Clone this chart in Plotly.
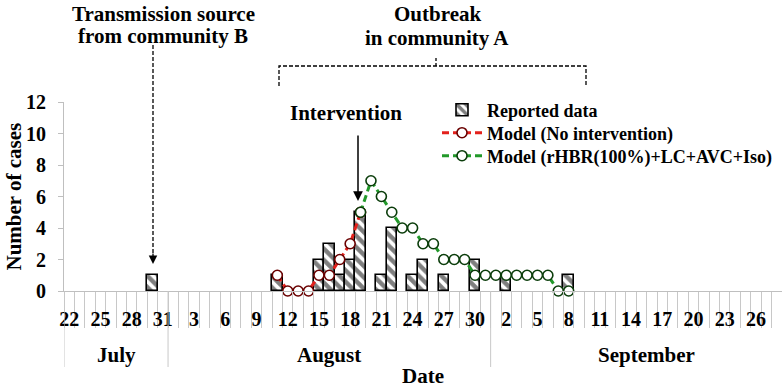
import datetime as dt
import plotly.graph_objects as go

# ---------------- data ----------------
start_date = dt.date(2015, 7, 22)
end_date = dt.date(2015, 9, 28)

reported_dates = ["07-30", "08-11", "08-15", "08-16", "08-17", "08-18", "08-19",
                  "08-21", "08-22", "08-24", "08-25", "08-27", "08-30", "09-02", "09-08"]
reported_cases = [1, 1, 2, 3, 1, 2, 5, 1, 4, 1, 2, 1, 2, 1, 1]

no_intervention_start = "08-11"
no_intervention_cases = [1, 0, 0, 0, 1, 1, 2, 3, 5]

intervention_start = "08-19"
intervention_cases = [5, 7, 6, 5, 4, 4, 3, 3, 2, 2, 2, 1, 1, 1, 1, 1, 1, 1, 1, 0, 0]

month_names = ["July", "August", "September"]
month_lengths = [31, 31, 30]
y_ticks = [0, 2, 4, 6, 8, 10, 12]

# ---------------- helpers ----------------
n_days = (end_date - start_date).days + 1
days = [start_date + dt.timedelta(days=i) for i in range(n_days)]


def idx(mmdd):
    m, d = map(int, mmdd.split("-"))
    return (dt.date(start_date.year, m, d) - start_date).days


rep_x = [idx(d) for d in reported_dates]
ni_x = [idx(no_intervention_start) + i for i in range(len(no_intervention_cases))]
iv_x = [idx(intervention_start) + i for i in range(len(intervention_cases))]

# pixel -> paper conversion for decorations
PL, PR, PT, PB = 64, 782, 102, 291


def pxx(x):
    return (x - PL) / (PR - PL)


def pxy(y):
    return (PB - y) / (PB - PT)


FONT = "Liberation Serif, Times New Roman, DejaVu Serif, serif"

fig = go.Figure()
fig.add_trace(go.Bar(
    x=rep_x, y=reported_cases, width=1, name="Reported data", legend="legend",
    marker=dict(color="white", line=dict(color="black", width=1.6),
                pattern=dict(shape="\\", fgcolor="black", bgcolor="white",
                             size=8, solidity=0.55)),
))
fig.add_trace(go.Scatter(
    x=ni_x, y=no_intervention_cases, mode="lines+markers", legend="legend2",
    name="Model (No intervention)", cliponaxis=False,
    line=dict(color="#e3211c", width=3, dash="7px,4px"),
    marker=dict(symbol="circle", size=10, color="white",
                line=dict(color="#6a0000", width=1.6)),
))
fig.add_trace(go.Scatter(
    x=iv_x, y=intervention_cases, mode="lines+markers", legend="legend3",
    name="Model (rHBR(100%)+LC+AVC+Iso)", cliponaxis=False,
    line=dict(color="#22992a", width=3, dash="7px,4px"),
    marker=dict(symbol="circle", size=10, color="white",
                line=dict(color="#0b3d0b", width=1.6)),
))

tick_vals = list(range(0, n_days, 3))
tick_text = [str(days[i].day) for i in tick_vals]

fig.update_xaxes(
    range=[-0.5, n_days - 0.5],
    tickmode="array", tickvals=tick_vals, ticktext=tick_text,
    ticks="", ticklabelstandoff=10,
    tickfont=dict(family=FONT, size=20, color="black", weight="bold"),
    minor=dict(ticks="outside", tickmode="array",
               tickvals=[i - 0.5 for i in range(n_days + 1)],
               ticklen=36, tickcolor="#c8c8c8", tickwidth=1),
    showline=True, linecolor="#bfbfbf", linewidth=1,
    showgrid=False, zeroline=False,
)
fig.update_yaxes(
    range=[0, 12], tickmode="array", tickvals=y_ticks,
    ticks="outside", ticklen=5, tickcolor="#bfbfbf",
    ticklabelstandoff=8,
    tickfont=dict(family=FONT, size=20, color="black", weight="bold"),
    showline=True, linecolor="#bfbfbf", linewidth=1,
    showgrid=False, zeroline=False,
)

annotations = []
shapes = []

# month dividers and labels
first_month_start = -(start_date.day - 1)
month_start = first_month_start - 0.5
shapes.append(dict(type="line", xref="x", yref="paper", x0=-0.5, x1=-0.5,
                   y0=0, y1=pxy(367), line=dict(color="#c8c8c8", width=1)))
for name, length in zip(month_names, month_lengths):
    m_end = month_start + length
    vis_start = max(month_start, -0.5)
    annotations.append(dict(xref="x", yref="paper", x=(vis_start + m_end) / 2, y=pxy(355),
                            text=name, showarrow=False, yanchor="middle",
                            font=dict(family=FONT, size=21, color="black", weight="bold")))
    if m_end < n_days - 0.5:
        shapes.append(dict(type="line", xref="x", yref="paper", x0=m_end, x1=m_end,
                           y0=0, y1=pxy(367), line=dict(color="#c8c8c8", width=1)))
    month_start = m_end

# axis titles
annotations.append(dict(xref="paper", yref="paper", x=0.5, y=pxy(376), text="Date",
                        showarrow=False, yanchor="middle",
                        font=dict(family=FONT, size=21, color="black", weight="bold")))
annotations.append(dict(xref="paper", yref="paper", x=pxx(13), y=0.5, text="Number of cases",
                        textangle=-90, showarrow=False, xanchor="center", yanchor="middle",
                        font=dict(family=FONT, size=21, color="black", weight="bold")))

# top texts
for txt, x, y in [("Transmission source", 163, 14), ("from community B", 163, 36),
                  ("Outbreak", 437, 14), ("in community A", 437, 38),
                  ("Intervention", 346, 113)]:
    annotations.append(dict(xref="paper", yref="paper", x=pxx(x), y=pxy(y), text=txt,
                            showarrow=False, xanchor="center", yanchor="middle",
                            font=dict(family=FONT, size=21, color="black", weight="bold")))

# transmission dashed arrow
shapes.append(dict(type="line", xref="paper", yref="paper", x0=pxx(153), x1=pxx(153),
                   y0=pxy(45), y1=pxy(254), line=dict(color="black", width=1.3, dash="4px,2px")))
annotations.append(dict(xref="paper", yref="paper", x=pxx(153), y=pxy(264), ax=0, ay=-12,
                        text="", showarrow=True, arrowhead=2, arrowsize=1.3, arrowwidth=1.3,
                        arrowcolor="black"))
# intervention arrow
annotations.append(dict(xref="paper", yref="paper", x=pxx(358), y=pxy(201), ax=0, ay=-67,
                        text="", showarrow=True, arrowhead=2, arrowsize=1.3, arrowwidth=1.5,
                        arrowcolor="black"))
# outbreak bracket
bx0, bx1, bxm = pxx(279), pxx(586), pxx(436)
by_top, by_bot, by_tick = pxy(66), pxy(86), pxy(58)
shapes.append(dict(type="path", xref="paper", yref="paper",
                   path=f"M {bx0},{by_bot} L {bx0},{by_top} L {bx1},{by_top} L {bx1},{by_bot}",
                   line=dict(color="black", width=1.3, dash="4px,2px")))
shapes.append(dict(type="line", xref="paper", yref="paper", x0=bxm, x1=bxm,
                   y0=by_tick, y1=by_top, line=dict(color="black", width=1.3, dash="3px,2px")))

legend_common = dict(x=pxx(437), xanchor="left", yanchor="middle",
                     bgcolor="rgba(0,0,0,0)", borderwidth=0, itemwidth=40,
                     font=dict(family=FONT, size=18, color="black", weight="bold"))

fig.update_layout(
    width=782, height=390,
    margin=dict(l=PL, r=782 - PR, t=PT, b=390 - PB),
    paper_bgcolor="white", plot_bgcolor="white",
    bargap=0, showlegend=True,
    legend=dict(y=pxy(110), **legend_common),
    legend2=dict(y=pxy(133), **legend_common),
    legend3=dict(y=pxy(156), **legend_common),
    annotations=annotations, shapes=shapes,
)

fig.write_html("out.html", config={"displayModeBar": False},
               post_script="document.body.style.margin='0';document.body.style.padding='0';")
